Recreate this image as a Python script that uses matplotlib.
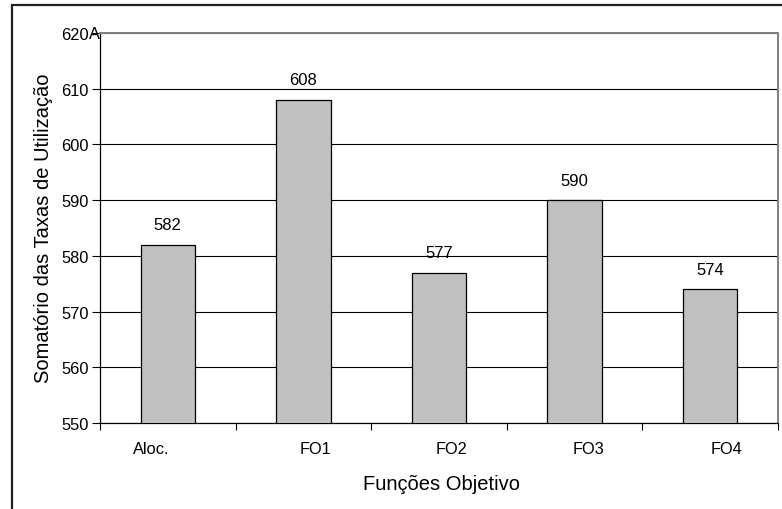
import matplotlib
matplotlib.use("Agg")
import matplotlib.pyplot as plt
from matplotlib.patches import Rectangle
import matplotlib.transforms as mtransforms

plt.rcParams['font.family'] = ['Liberation Sans', 'DejaVu Sans']

categories = ["Aloc.", "FO1", "FO2", "FO3", "FO4"]
values = [582, 608, 577, 590, 574]
y_ticks = [550, 560, 570, 580, 590, 600, 610, 620]
y_label = "Somatório das Taxas de Utilização"
x_label = "Funções Objetivo"

W, H = 782, 510
fig = plt.figure(figsize=(W / 100, H / 100), dpi=100)

# outer chart frame (continues past the right and bottom edges)
fig.patches.append(Rectangle((12 / W, -0.1), 1.2, (H - 6) / H + 0.1,
                             transform=fig.transFigure, fill=False,
                             edgecolor="#222222", linewidth=1.6))

ax = fig.add_axes([100 / W, 1 - 424 / H, 678 / W, 390 / H])
n = len(categories)
xs = list(range(n))
ax.bar(xs, values, width=0.4, color="#C0C0C0", edgecolor="black",
       linewidth=0.9, zorder=3, bottom=0)
ax.set_xlim(-0.5, n - 0.5)
ax.set_ylim(y_ticks[0], y_ticks[-1])

ax.set_yticks(y_ticks)
ax.set_yticklabels([str(v) for v in y_ticks], fontsize=11.8)
ax.tick_params(axis="y", direction="out", length=6, width=0.8, pad=2)
ax.yaxis.grid(True, color="black", linewidth=0.8, zorder=0)
ax.set_axisbelow(True)

# category ticks sit at boundaries; labels drawn separately
ax.set_xticks([i - 0.5 for i in range(n + 1)])
ax.set_xticklabels([])
ax.tick_params(axis="x", direction="out", length=5, width=0.8)
label_shift = [-17, 12, 13, 14, 16]
for i, (c, s) in enumerate(zip(categories, label_shift)):
    tr = ax.get_xaxis_transform() + mtransforms.ScaledTranslation(s / 100, -26 / 100, fig.dpi_scale_trans)
    ax.text(i, 0, c, transform=tr, ha="center", va="center", fontsize=11.8)

for s in ["left", "bottom"]:
    ax.spines[s].set_color("black")
    ax.spines[s].set_linewidth(0.9)
for s in ["top", "right"]:
    ax.spines[s].set_color("#808080")
    ax.spines[s].set_linewidth(1.4)

for x, v in zip(xs, values):
    tr = ax.transData + mtransforms.ScaledTranslation(0, 20 / 100, fig.dpi_scale_trans)
    ax.text(x, v, str(v), transform=tr, ha="center", va="center", fontsize=12)

ax.text(0, 1, "A", transform=ax.transAxes, ha="right", va="center", fontsize=11.8)

fig.text(44 / W, 1 - 228 / H, y_label, rotation=90, ha="center", va="center", fontsize=14.5)
fig.text(442 / W, 1 - 485 / H, x_label, ha="center", va="center", fontsize=14.5)

fig.savefig("out.png", dpi=100)
